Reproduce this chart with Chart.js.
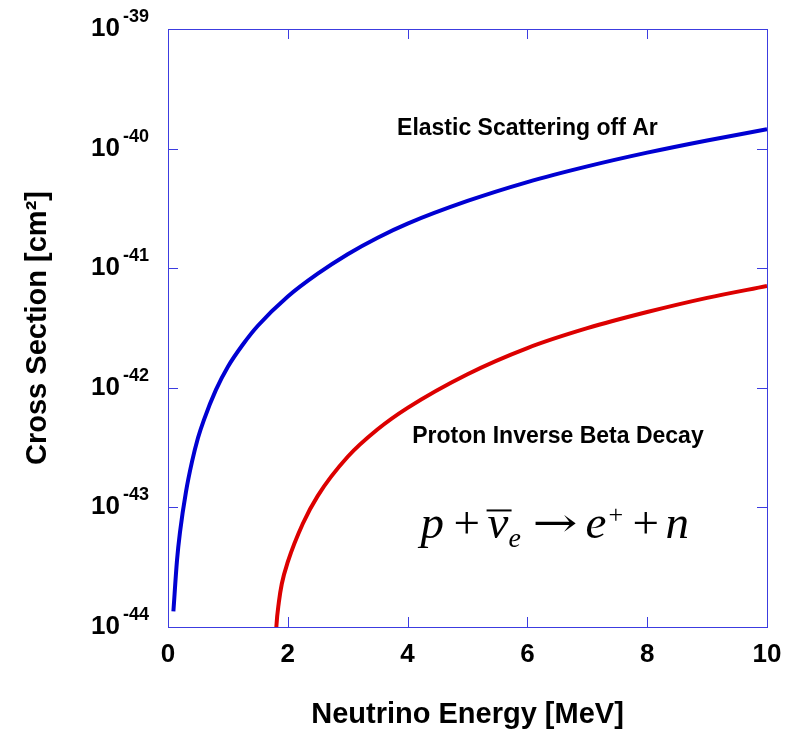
<!DOCTYPE html>
<html>
<head>
<meta charset="utf-8">
<script src="https://cdn.jsdelivr.net/npm/chart.js@4.4.1/dist/chart.umd.min.js"></script>
<style>
  html, body { margin: 0; padding: 0; background: #ffffff; }
  #wrap { width: 787px; height: 732px; }
</style>
</head>
<body>
<div id="wrap"><canvas id="c" width="787" height="732"></canvas></div>
<script>
// ---- Data ----
// Elastic scattering off Ar (blue)
const elasticEnergy = [0.09, 0.15, 0.2, 0.3, 0.4, 0.5, 0.6, 0.8, 1.0, 1.25, 1.5, 2.0, 2.5, 3.0, 3.5, 4.0, 5.0, 6.0, 7.0, 8.0, 9.0, 10.0];
const elasticSigma  = [1.35e-44, 3.6e-44, 6.2e-44, 1.35e-43, 2.4e-43, 3.8e-43, 5.4e-43, 9.6e-43, 1.5e-42, 2.3e-42, 3.3e-42, 5.8e-42, 9.0e-42, 1.31e-41, 1.8e-41, 2.36e-41, 3.65e-41, 5.25e-41, 7.1e-41, 9.25e-41, 1.17e-40, 1.45e-40];
// Proton inverse beta decay (red)
const ibdEnergy = [1.79, 1.81, 1.85, 1.9, 2.0, 2.25, 2.5, 3.0, 3.5, 4.0, 5.0, 6.0, 7.0, 8.0, 9.0, 10.0];
const ibdSigma  = [6.0e-45, 1.02e-44, 1.6e-44, 2.3e-44, 3.5e-44, 7.3e-44, 1.25e-43, 2.65e-43, 4.5e-43, 6.8e-43, 1.3e-42, 2.15e-42, 3.15e-42, 4.3e-42, 5.65e-42, 7.1e-42];
// Axes
const xTicks = [0, 2, 4, 6, 8, 10];
const yTickExponents = [-44, -43, -42, -41, -40, -39];
const seriesNames = ['Elastic Scattering off Ar', 'Proton Inverse Beta Decay'];
const xTitle = 'Neutrino Energy [MeV]';
const yTitle = 'Cross Section [cm\u00B2]';

const AXIS = '#3c3ce0';
const BLUE = '#0000d2';
const RED = '#dc0000';

function pairs(xs, ys) { return xs.map((x, i) => ({ x: x, y: ys[i] })); }

const framePlugin = {
  id: 'frame',
  afterDatasetsDraw(chart) {
    const ctx = chart.ctx;
    const a = chart.chartArea;
    const xs = chart.scales.x, ys = chart.scales.y;
    ctx.save();
    ctx.strokeStyle = AXIS;
    ctx.lineWidth = 1;
    ctx.strokeRect(Math.round(a.left) + 0.5, Math.round(a.top) + 0.5,
                   Math.round(a.right - a.left), Math.round(a.bottom - a.top));
    const tl = 10;
    ctx.beginPath();
    xTicks.slice(1, -1).forEach(v => {
      const px = Math.round(xs.getPixelForValue(v)) + 0.5;
      ctx.moveTo(px, a.bottom); ctx.lineTo(px, a.bottom - tl);
      ctx.moveTo(px, a.top); ctx.lineTo(px, a.top + tl);
    });
    yTickExponents.slice(1, -1).forEach(e => {
      const py = Math.round(ys.getPixelForValue(Math.pow(10, e))) + 0.5;
      ctx.moveTo(a.left, py); ctx.lineTo(a.left + tl, py);
      ctx.moveTo(a.right, py); ctx.lineTo(a.right - tl, py);
    });
    ctx.stroke();
    ctx.restore();
  },
  afterDraw(chart) {
    const ctx = chart.ctx;
    const xs = chart.scales.x, ys = chart.scales.y;
    ctx.save();
    ctx.fillStyle = '#000';
    // y tick labels 10^n
    yTickExponents.forEach(e => {
      const py = ys.getPixelForValue(Math.pow(10, e));
      ctx.font = 'bold 26px "Liberation Sans", Arial, sans-serif';
      ctx.textAlign = 'right';
      ctx.textBaseline = 'alphabetic';
      ctx.fillText('10', 120, py + 7);
      ctx.font = 'bold 18px "Liberation Sans", Arial, sans-serif';
      ctx.textAlign = 'left';
      ctx.fillText(String(e), 123, py - 7);
    });
    // series annotations
    ctx.font = 'bold 23px "Liberation Sans", Arial, sans-serif';
    ctx.textAlign = 'center';
    ctx.textBaseline = 'alphabetic';
    ctx.fillText(seriesNames[0], xs.getPixelForValue(6.0), ys.getPixelForValue(1.3e-40));
    ctx.fillText(seriesNames[1], xs.getPixelForValue(6.51), ys.getPixelForValue(3.47e-43));

    // reaction equation
    const ox = xs.getPixelForValue(4.2);
    const oy = ys.getPixelForValue(5.5e-44);
    const it = 'italic 47px "Liberation Serif", "Times New Roman", serif';
    const rm = '47px "Liberation Serif", "Times New Roman", serif';
    ctx.textAlign = 'left';
    const put = (txt, font, dx, dy) => { ctx.font = font; ctx.fillText(txt, ox + dx, oy + dy); };
    put('p', it, 1, 0);
    put('+', rm, 34, 0);
    put('\u03BD', it, 68, 0);
    put('e', 'italic 28px "Liberation Serif", "Times New Roman", serif', 89, 9);
    put('e', it, 166, 0);
    put('+', '26px "Liberation Serif", "Times New Roman", serif', 189, -15);
    put('+', rm, 213, 0);
    put('n', it, 246, 0);
    // bar over nu
    ctx.fillRect(ox + 67, oy - 29, 25, 2);
    // arrow (stretched glyph)
    ctx.font = '40px "DejaVu Serif", "Liberation Serif", serif';
    const aw = ctx.measureText('\u2192').width;
    ctx.save();
    ctx.translate(ox + 113, oy - 2);
    ctx.scale(45 / aw, 1);
    ctx.fillText('\u2192', 0, 0);
    ctx.restore();
    ctx.restore();
  }
};

new Chart(document.getElementById('c'), {
  type: 'line',
  data: {
    datasets: [
      { label: seriesNames[0], data: pairs(elasticEnergy, elasticSigma), borderColor: BLUE,
        borderWidth: 4, pointRadius: 0, fill: false, cubicInterpolationMode: 'monotone' },
      { label: seriesNames[1], data: pairs(ibdEnergy, ibdSigma), borderColor: RED,
        borderWidth: 4, pointRadius: 0, fill: false, cubicInterpolationMode: 'monotone' }
    ]
  },
  options: {
    responsive: false,
    animation: false,
    devicePixelRatio: 1,
    layout: { padding: { top: 29, right: 20, left: 0, bottom: 0 } },
    plugins: { legend: { display: false }, tooltip: { enabled: false } },
    scales: {
      x: {
        type: 'linear', min: 0, max: 10,
        grid: { display: false },
        border: { display: false },
        ticks: {
          stepSize: 2, color: '#000', padding: 4,
          font: { family: '"Liberation Sans", Arial, sans-serif', size: 26, weight: 'bold' },
          callback: v => xTicks.includes(v) ? String(v) : ''
        },
        title: {
          display: true, text: xTitle, color: '#000',
          font: { family: '"Liberation Sans", Arial, sans-serif', size: 29, weight: 'bold' },
          padding: { top: 0, bottom: 0 }
        },
        afterFit: s => { s.height = 105; s.paddingLeft = 0; s.paddingRight = 0; }
      },
      y: {
        type: 'logarithmic', min: 1e-44, max: 1e-39,
        grid: { display: false },
        border: { display: false },
        ticks: { display: false },
        title: {
          display: true, text: yTitle, color: '#000',
          font: { family: '"Liberation Sans", Arial, sans-serif', size: 29, weight: 'bold' },
          padding: { top: 21, bottom: 0 }
        },
        afterFit: s => { s.width = 168; s.paddingTop = 0; s.paddingBottom = 0; }
      }
    }
  },
  plugins: [framePlugin]
});
</script>
</body>
</html>
